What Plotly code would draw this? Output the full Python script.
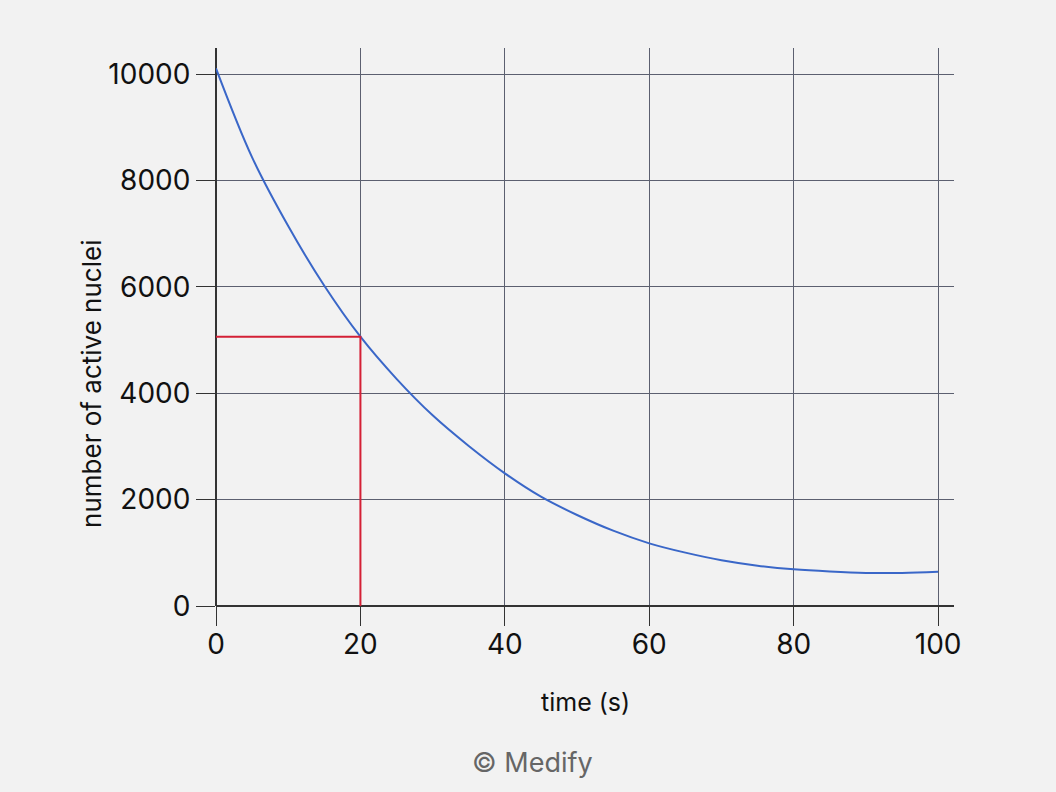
import plotly.graph_objects as go

time_s = [0, 5, 10, 15, 20, 25, 30, 35, 40, 45, 50, 55, 60, 65, 70, 75, 80, 85, 90, 95, 100]
nuclei = [10107, 8434, 7143, 6020, 5062, 4270, 3584, 3008, 2494, 2055, 1711, 1416,
          1178, 1003, 860, 758, 689, 648, 622, 622, 645]

half_t = [0, 20, 20]
half_n = [5060, 5060, 0]

x_ticks = [0, 20, 40, 60, 80, 100]
y_ticks = [0, 2000, 4000, 6000, 8000, 10000]

FONT = "Inter"

fig = go.Figure()
fig.add_trace(go.Scatter(x=time_s, y=nuclei, mode="lines",
                         line=dict(color="#3a67c8", width=2, shape="spline", smoothing=1.0),
                         hoverinfo="skip", showlegend=False))
fig.add_trace(go.Scatter(x=half_t, y=half_n, mode="lines",
                         line=dict(color="#d42036", width=2),
                         hoverinfo="skip", showlegend=False))

axis_common = dict(showgrid=True, gridcolor="#5c6070", gridwidth=1,
                   zeroline=True, zerolinecolor="#333333", zerolinewidth=1.5,
                   ticks="outside", ticklen=19, tickcolor="#333333", tickwidth=1,
                   showline=False,
                   tickfont=dict(family=FONT, size=28, color="#111111"))

fig.update_layout(
    width=1056, height=792,
    margin=dict(l=216, r=102, t=48, b=186),
    paper_bgcolor="#f2f2f2", plot_bgcolor="#f2f2f2",
    xaxis=dict(range=[0, 102.2], tickvals=x_ticks, ticktext=[str(v) for v in x_ticks],
               ticklabelstandoff=-6, **axis_common),
    yaxis=dict(range=[0, 10490], tickvals=y_ticks, ticktext=[str(v) for v in y_ticks], **axis_common),
    annotations=[
        dict(text="time (s)", xref="paper", yref="paper", x=0.5, y=-0.172,
             showarrow=False, font=dict(family=FONT, size=25, color="#111111"),
             xanchor="center", yanchor="middle"),
        dict(text="number of active nuclei", xref="paper", yref="paper", x=-0.168, y=0.398,
             showarrow=False, textangle=-90, font=dict(family=FONT, size=26, color="#111111"),
             xanchor="center", yanchor="middle"),
        dict(text="© Medify", xref="paper", yref="paper", x=0.4295, y=-0.2796,
             showarrow=False, font=dict(family=FONT, size=27, color="#666666"),
             xanchor="center", yanchor="middle"),
    ],
)

fig.write_html("out.html", config={"displayModeBar": False},
               post_script="document.body.style.margin='0';document.body.style.background='#f2f2f2';")
